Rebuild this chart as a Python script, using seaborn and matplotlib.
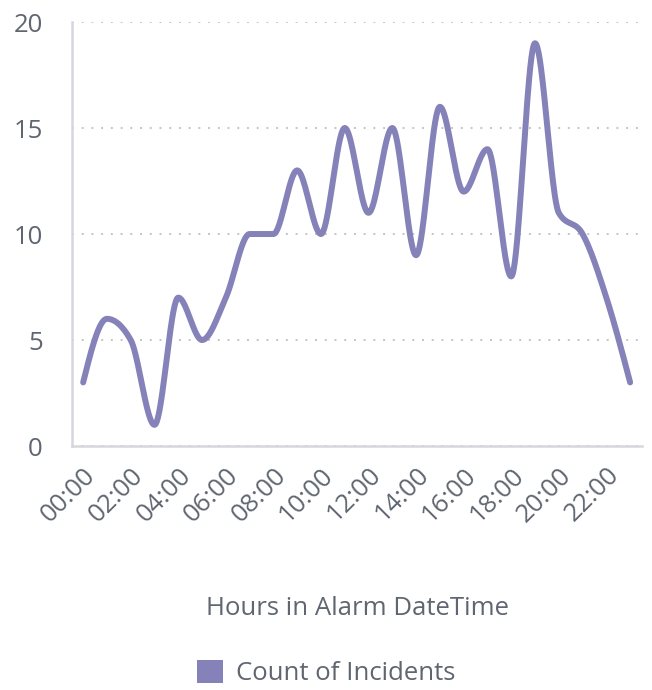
import numpy as np
import pandas as pd
import matplotlib
matplotlib.use("Agg")
import matplotlib.pyplot as plt
import seaborn as sns
from matplotlib.patches import Patch

# Data
hours = list(range(24))
hour_labels = [f"{h:02d}:00" for h in hours]
incidents = [3, 6, 5, 1, 7, 5, 7, 10, 10, 13, 10, 15, 11, 15, 9, 16, 12, 14, 8, 19, 11, 10, 7, 3]

line_color = "#8482B8"
text_color = "#5F6670"


def monotone_curve(x, y, n=40):
    # monotone cubic (same idea as d3 curveMonotoneX) for drawing the smooth line
    x = np.asarray(x, float)
    y = np.asarray(y, float)
    h = np.diff(x)
    s = np.diff(y) / h
    t = np.zeros_like(y)
    for i in range(1, len(y) - 1):
        p = (s[i - 1] * h[i] + s[i] * h[i - 1]) / (h[i - 1] + h[i])
        t[i] = (np.sign(s[i - 1]) + np.sign(s[i])) * min(abs(s[i - 1]), abs(s[i]), 0.5 * abs(p))
    t[0] = (3 * s[0] - t[1]) / 2 if len(y) > 2 else s[0]
    t[-1] = (3 * s[-1] - t[-2]) / 2 if len(y) > 2 else s[-1]
    xs, ys = [], []
    for i in range(len(y) - 1):
        u = np.linspace(0, 1, n, endpoint=False)
        h00 = 2 * u**3 - 3 * u**2 + 1
        h10 = u**3 - 2 * u**2 + u
        h01 = -2 * u**3 + 3 * u**2
        h11 = u**3 - u**2
        xs.append(x[i] + u * h[i])
        ys.append(h00 * y[i] + h10 * h[i] * t[i] + h01 * y[i + 1] + h11 * h[i] * t[i + 1])
    xs.append([x[-1]])
    ys.append([y[-1]])
    return np.concatenate(xs), np.concatenate(ys)


cx, cy = monotone_curve(hours, incidents)
curve = pd.DataFrame({"hour": cx, "count": cy})

sns.set_style("white")
plt.rcParams["font.family"] = ["Open Sans", "DejaVu Sans"]
fs = 18.5

fig = plt.figure(figsize=(6.52, 6.90), dpi=100)
ax = fig.add_axes([0.1104, 0.3536, 0.8743, 0.6145])

sns.lineplot(data=curve, x="hour", y="count", color=line_color, linewidth=4.3,
             ax=ax, solid_capstyle="round", sort=False)

ax.set_xlim(-0.47, 23.5)
ax.set_ylim(0, 20)
ax.set_yticks([0, 5, 10, 15, 20])
ax.set_xticks(hours[::2])
ax.set_xticklabels(hour_labels[::2], rotation=45, ha="right", rotation_mode="anchor")

ax.tick_params(axis="both", length=0, labelsize=fs, colors=text_color)
ax.tick_params(axis="y", pad=21)
ax.tick_params(axis="x", pad=12)

ax.grid(axis="y", linestyle=(0, (1, 4)), color="#C4C4C4", linewidth=1.4)
ax.grid(axis="x", visible=False)
for side in ["top", "right"]:
    ax.spines[side].set_visible(False)
for side in ["left", "bottom"]:
    ax.spines[side].set_color("#D6D6DE")
    ax.spines[side].set_linewidth(1.8)

ax.set_xlabel("Hours in Alarm DateTime", fontsize=fs, color=text_color, labelpad=50)
ax.set_ylabel("")

handle = Patch(facecolor=line_color, edgecolor="none", label="Count of Incidents")
fig.legend(handles=[handle], loc="center", bbox_to_anchor=(0.5, 0.025), frameon=False,
           fontsize=fs, labelcolor=text_color, handlelength=1.0, handleheight=1.0,
           handletextpad=0.5)

fig.savefig("out.png", dpi=100)
